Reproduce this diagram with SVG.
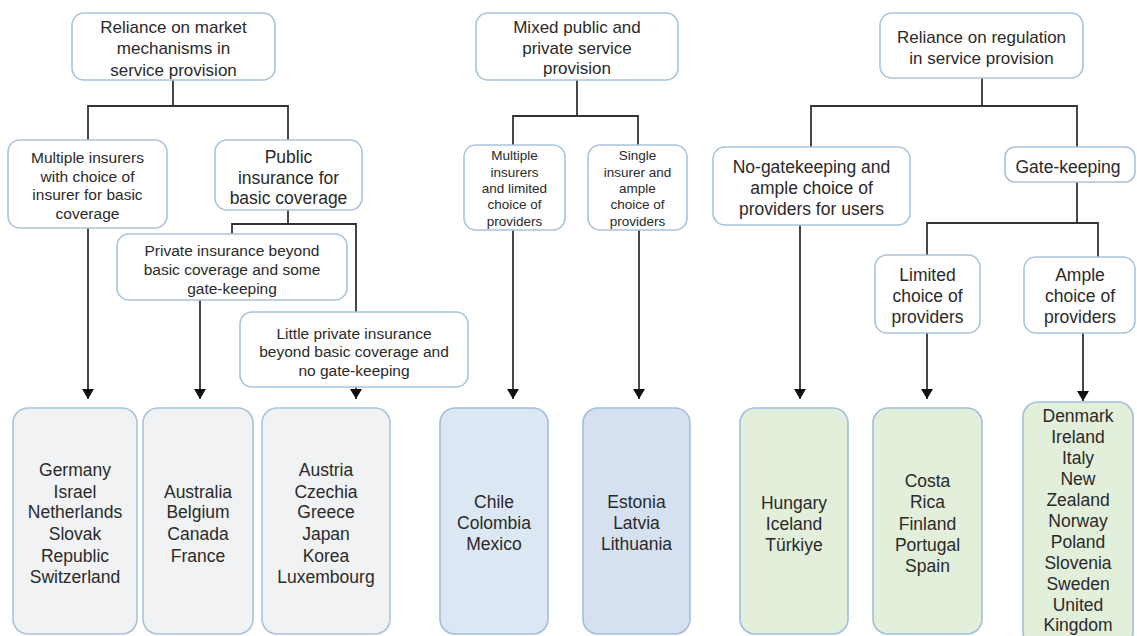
<svg xmlns="http://www.w3.org/2000/svg" width="1137" height="636" viewBox="0 0 1137 636">
<style>
.box{fill:#ffffff;stroke:#a9c3dd;stroke-width:1.6}
.gray{fill:#f1f2f4;stroke:#a9c3dd;stroke-width:1.6}
.blue{fill:#dce7f4;stroke:#a2bedb;stroke-width:1.6}
.blue2{fill:#d5e1f1;stroke:#a2bedb;stroke-width:1.6}
.green{fill:#e2efda;stroke:#a2bedb;stroke-width:1.6}
text{font-family:"Liberation Sans",Arial,sans-serif;fill:#2a2a2a;text-anchor:middle}
.t17{font-size:17px}
.t175{font-size:17.5px}
.t155{font-size:15.5px}
.t135{font-size:13.5px}
.ln{fill:none;stroke:#333333;stroke-width:1.8}
</style>
<defs>
<marker id="arr" viewBox="0 0 10 12" refX="10" refY="6" markerWidth="10" markerHeight="12" markerUnits="userSpaceOnUse" orient="auto">
<path d="M0,0 L10,6 L0,12 z" fill="#111111"/>
</marker>
</defs>
<rect width="1137" height="636" fill="#ffffff"/>

<g id="connectors">
<path class="ln" d="M173,80 V106 M88,140 V106 H288 V140"/>
<path class="ln" d="M288,210 V224 M232,234 V224 H356 V312"/>
<path class="ln" d="M88,228 V399" marker-end="url(#arr)"/>
<path class="ln" d="M200,300 V399" marker-end="url(#arr)"/>
<path class="ln" d="M356,387 V399" marker-end="url(#arr)"/>
<path class="ln" d="M577,80 V116 M513,145 V116 H638 V145"/>
<path class="ln" d="M513,230 V399" marker-end="url(#arr)"/>
<path class="ln" d="M639,230 V399" marker-end="url(#arr)"/>
<path class="ln" d="M982,78 V106 M811,147 V106 H1077 V147"/>
<path class="ln" d="M1077,182 V223 M927,255 V223 H1098 V257"/>
<path class="ln" d="M800,225 V399" marker-end="url(#arr)"/>
<path class="ln" d="M927,333 V399" marker-end="url(#arr)"/>
<path class="ln" d="M1083,333 V401" marker-end="url(#arr)"/>
</g>

<g id="n-market">
<rect class="box" x="72" y="13" width="203" height="67" rx="12"/>
<text class="t17"><tspan x="173.5" y="33">Reliance on market</tspan><tspan x="173.5" y="54">mechanisms in</tspan><tspan x="173.5" y="76">service provision</tspan></text>
</g>
<g id="n-multiple">
<rect class="box" x="8" y="140" width="159" height="88" rx="12"/>
<text class="t155"><tspan x="87.5" y="162.5">Multiple insurers</tspan><tspan x="87.5" y="181.5">with choice of</tspan><tspan x="87.5" y="199.5">insurer for basic</tspan><tspan x="87.5" y="218.5">coverage</tspan></text>
</g>
<g id="n-public">
<rect class="box" x="215" y="140" width="147" height="70" rx="12"/>
<text class="t175"><tspan x="288.5" y="163">Public</tspan><tspan x="288.5" y="184">insurance for</tspan><tspan x="288.5" y="204">basic coverage</tspan></text>
</g>
<g id="n-private">
<rect class="box" x="117" y="234" width="230" height="66" rx="12"/>
<text class="t155"><tspan x="232" y="255.5">Private insurance beyond</tspan><tspan x="232" y="274.5">basic coverage and some</tspan><tspan x="232" y="293.5">gate-keeping</tspan></text>
</g>
<g id="n-little">
<rect class="box" x="240" y="312" width="228" height="75" rx="12"/>
<text class="t155"><tspan x="354" y="338.5">Little private insurance</tspan><tspan x="354" y="356.5">beyond basic coverage and</tspan><tspan x="354" y="375.5">no gate-keeping</tspan></text>
</g>

<g id="n-mixed">
<rect class="box" x="476" y="13" width="202" height="67" rx="12"/>
<text class="t17"><tspan x="577" y="33">Mixed public and</tspan><tspan x="577" y="54">private service</tspan><tspan x="577" y="74">provision</tspan></text>
</g>
<g id="n-mixed-multiple">
<rect class="box" x="464" y="145" width="101" height="85" rx="12"/>
<text class="t135"><tspan x="514.5" y="160">Multiple</tspan><tspan x="514.5" y="177">insurers</tspan><tspan x="514.5" y="193">and limited</tspan><tspan x="514.5" y="209">choice of</tspan><tspan x="514.5" y="226">providers</tspan></text>
</g>
<g id="n-mixed-single">
<rect class="box" x="588" y="145" width="99" height="85" rx="12"/>
<text class="t135"><tspan x="637.5" y="160">Single</tspan><tspan x="637.5" y="177">insurer and</tspan><tspan x="637.5" y="193">ample</tspan><tspan x="637.5" y="209">choice of</tspan><tspan x="637.5" y="226">providers</tspan></text>
</g>

<g id="n-regulation">
<rect class="box" x="880" y="13" width="203" height="65" rx="12"/>
<text class="t17"><tspan x="981.5" y="43">Reliance on regulation</tspan><tspan x="981.5" y="64">in service provision</tspan></text>
</g>
<g id="n-nogate">
<rect class="box" x="713" y="147" width="197" height="78" rx="12"/>
<text class="t175"><tspan x="811.5" y="173">No-gatekeeping and</tspan><tspan x="811.5" y="194">ample choice of</tspan><tspan x="811.5" y="215">providers for users</tspan></text>
</g>
<g id="n-gate">
<rect class="box" x="1005" y="147" width="130" height="35" rx="10"/>
<text class="t175"><tspan x="1068" y="173">Gate-keeping</tspan></text>
</g>
<g id="n-limited">
<rect class="box" x="875" y="255" width="105" height="78" rx="12"/>
<text class="t175"><tspan x="927.5" y="281">Limited</tspan><tspan x="927.5" y="302">choice of</tspan><tspan x="927.5" y="323">providers</tspan></text>
</g>
<g id="n-ample">
<rect class="box" x="1024" y="257" width="111" height="76" rx="12"/>
<text class="t175"><tspan x="1080" y="281">Ample</tspan><tspan x="1080" y="302">choice of</tspan><tspan x="1080" y="323">providers</tspan></text>
</g>

<g id="c-market-multiple">
<rect class="gray" x="13" y="408" width="124" height="226" rx="15"/>
<text class="t175"><tspan x="75" y="476">Germany</tspan><tspan x="75" y="498">Israel</tspan><tspan x="75" y="518">Netherlands</tspan><tspan x="75" y="540">Slovak</tspan><tspan x="75" y="562">Republic</tspan><tspan x="75" y="583">Switzerland</tspan></text>
</g>
<g id="c-private">
<rect class="gray" x="143" y="408" width="110" height="226" rx="15"/>
<text class="t175"><tspan x="198" y="498">Australia</tspan><tspan x="198" y="518">Belgium</tspan><tspan x="198" y="540">Canada</tspan><tspan x="198" y="562">France</tspan></text>
</g>
<g id="c-little">
<rect class="gray" x="262" y="408" width="128" height="226" rx="15"/>
<text class="t175"><tspan x="326" y="476">Austria</tspan><tspan x="326" y="498">Czechia</tspan><tspan x="326" y="518">Greece</tspan><tspan x="326" y="540">Japan</tspan><tspan x="326" y="562">Korea</tspan><tspan x="326" y="583">Luxembourg</tspan></text>
</g>
<g id="c-mixed-multiple">
<rect class="blue" x="440" y="408" width="108" height="226" rx="15"/>
<text class="t175"><tspan x="494" y="508">Chile</tspan><tspan x="494" y="529">Colombia</tspan><tspan x="494" y="550">Mexico</tspan></text>
</g>
<g id="c-mixed-single">
<rect class="blue2" x="583" y="408" width="107" height="226" rx="15"/>
<text class="t175"><tspan x="636.5" y="508">Estonia</tspan><tspan x="636.5" y="529">Latvia</tspan><tspan x="636.5" y="550">Lithuania</tspan></text>
</g>
<g id="c-nogate">
<rect class="green" x="740" y="408" width="108" height="226" rx="15"/>
<text class="t175"><tspan x="794" y="509">Hungary</tspan><tspan x="794" y="530">Iceland</tspan><tspan x="794" y="551">Türkiye</tspan></text>
</g>
<g id="c-limited">
<rect class="green" x="873" y="408" width="109" height="226" rx="15"/>
<text class="t175"><tspan x="927.5" y="487">Costa</tspan><tspan x="927.5" y="508">Rica</tspan><tspan x="927.5" y="530">Finland</tspan><tspan x="927.5" y="551">Portugal</tspan><tspan x="927.5" y="572">Spain</tspan></text>
</g>
<g id="c-ample">
<rect class="green" x="1023" y="402" width="110" height="245" rx="15"/>
<text class="t175"><tspan x="1078" y="422">Denmark</tspan><tspan x="1078" y="443">Ireland</tspan><tspan x="1078" y="464">Italy</tspan><tspan x="1078" y="485">New</tspan><tspan x="1078" y="506">Zealand</tspan><tspan x="1078" y="527">Norway</tspan><tspan x="1078" y="548">Poland</tspan><tspan x="1078" y="569">Slovenia</tspan><tspan x="1078" y="590">Sweden</tspan><tspan x="1078" y="611">United</tspan><tspan x="1078" y="631">Kingdom</tspan></text>
</g>
</svg>
